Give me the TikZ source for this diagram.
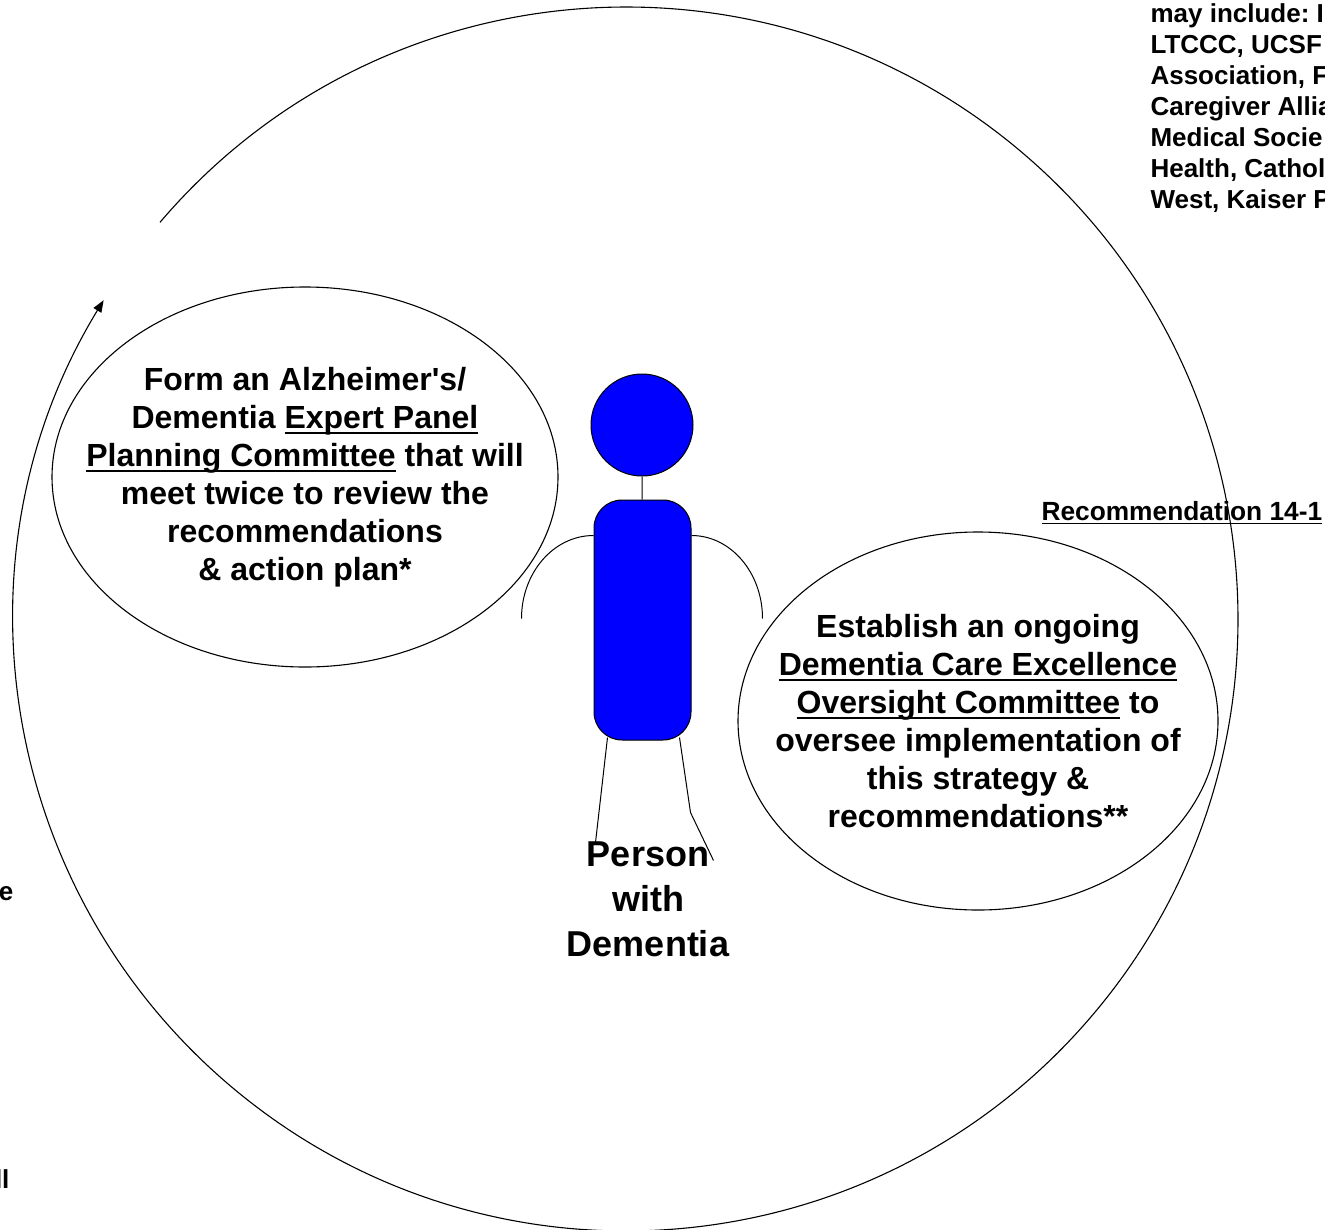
\documentclass[tikz,border=0pt]{standalone}
\usepackage{fontspec}
\setmainfont{Liberation Sans}[Ligatures=TeXOff]
\usetikzlibrary{arrows.meta}
\frenchspacing
\newcommand{\uln}[1]{\setbox0=\hbox{#1}\rlap{\rule[-0.17em]{\wd0}{0.065em}}\box0\relax}

\begin{document}
\begin{tikzpicture}[x=1pt, y=-1pt, line width=1.1pt,
    panel/.style={align=center, inner sep=0pt, font=\fontsize{32}{38}\selectfont\bfseries},
    blob/.style={draw, fill=blue, line width=1pt},
    limb/.style={line width=1pt},
    note/.style={anchor=base west, inner sep=0pt, font=\fontsize{26}{31}\selectfont\bfseries}]
  \clip (0,0) rectangle (1325,1229);
  % the loop round the person
  \coordinate (hub) at (626,619);
  \draw[-{Triangle[length=12pt,width=9pt]}] (hub) ++(139.6:612pt)
      arc[start angle=139.6, end angle=-211.4, radius=612pt];

  % person
  \node[blob, circle, minimum size=102pt] (head) at (642,425) {};
  \node[blob, rounded corners=28pt, minimum width=97pt, minimum height=240pt] (torso) at (642.5,620) {};
  \draw[limb] (head) -- (torso);
  \draw[limb] (torso.north west) ++(0,36) arc[start angle=90, end angle=180, x radius=72pt, y radius=83pt];
  \draw[limb] (torso.north east) ++(0,36) arc[start angle=90, end angle=0, x radius=71pt, y radius=83pt];
  \draw[limb] (torso.south) ++(-35,-3) -- ++(-12,105);
  \draw[limb] (torso.south) ++(37,-3) -- ++(11,75) -- ++(23,48);
  \node[align=center, font=\fontsize{36}{45}\selectfont\bfseries] (who) at (648,899) {Person\\ with\\ Dementia};

  % the two committees
  \node[panel] (lpanel) at (305,477) {Form an Alzheimer's/\\ Dementia \uln{Expert Panel}\\
      \uln{Planning Committee} that will\\ meet twice to review the\\ recommendations\\ \& action plan*};
  \draw (lpanel.center) ellipse[x radius=253pt, y radius=190pt];
  \node[panel] (rpanel) at (978,721) {Establish an ongoing\\ \uln{Dementia Care Excellence}\\
      \uln{Oversight Committee} to\\ oversee implementation of\\ this strategy \&\\ recommendations**};
  \draw (rpanel.center) ellipse[x radius=240pt, y radius=189pt];

  \node[note, font=\fontsize{26.3}{31}\selectfont\bfseries] (rec) at (1041,520) {\uln{Recommendation 14-1}};
  \foreach \txt [count=\i] in {may include: I, {LTCCC, UCSF}, {Association, F}, Caregiver Allia,
      Medical Socie, {Health, Cathol}, {West, Kaiser P}}
    \node[note] (note\i) at (1150,-8.6+31*\i) {\txt};
  \node[note, anchor=base east] (frag1) at (14,900) {e};
  \node[note, anchor=base east] (frag2) at (10,1188) {ll};
\end{tikzpicture}
\end{document}
